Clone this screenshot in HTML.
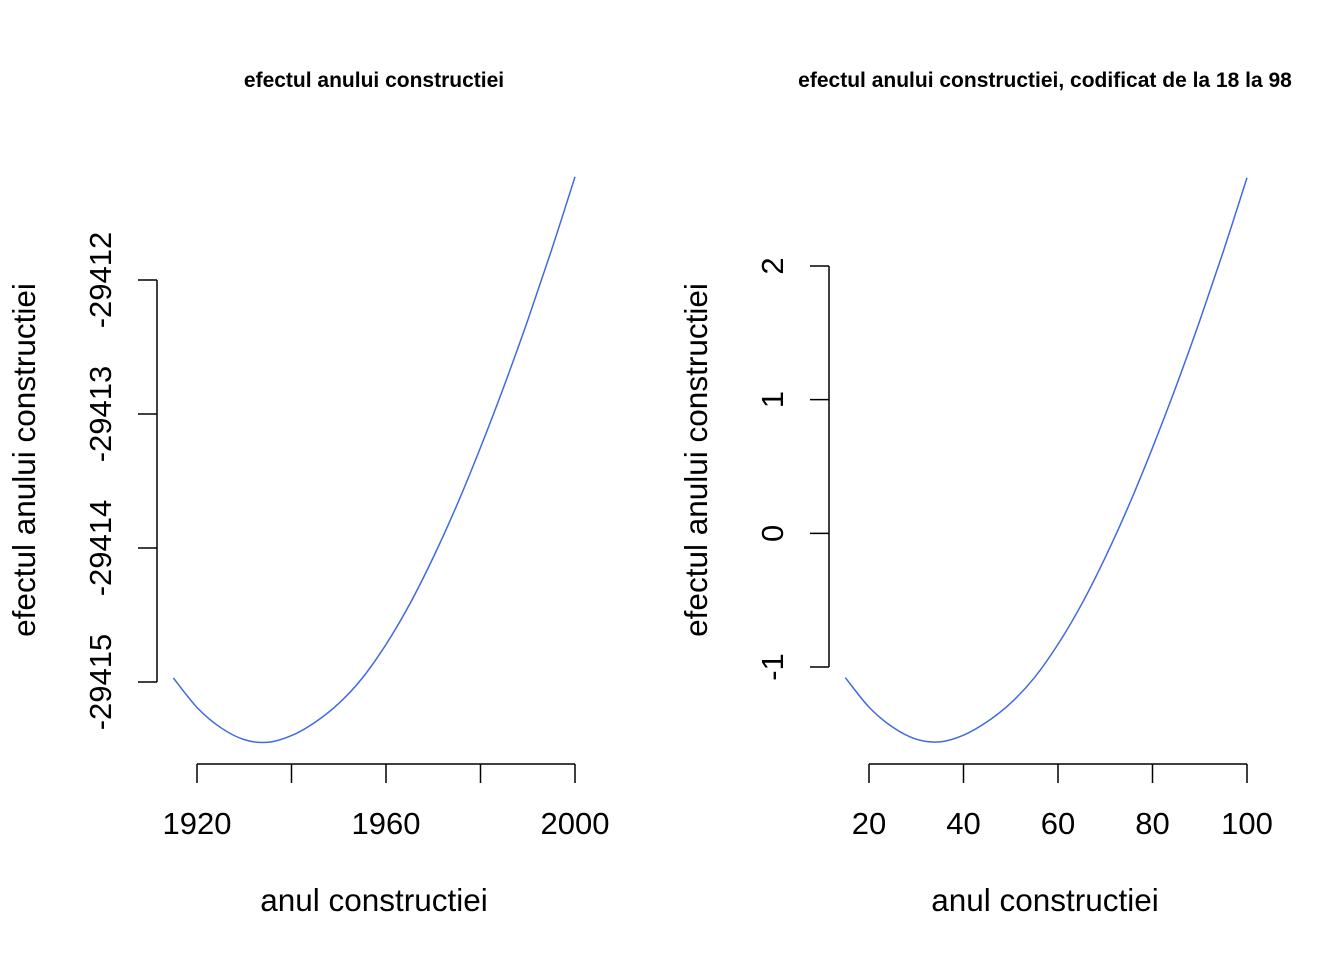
<!DOCTYPE html>
<html><head><meta charset="utf-8"><style>
html,body{margin:0;padding:0;background:#fff;}
svg{display:block;font-family:"Liberation Sans",Arial,sans-serif;}
</style></head><body>
<svg id="c" width="1344" height="960" viewBox="0 0 1344 960"></svg>
<script>
const leftYears=[1915,1920,1925,1930,1935,1940,1945,1950,1955,1960,1965,1970,1975,1980,1985,1990,1995,2000];
const leftValues=[-29414.97,-29415.19,-29415.34,-29415.43,-29415.45,-29415.40,-29415.30,-29415.16,-29414.97,-29414.72,-29414.42,-29414.07,-29413.68,-29413.25,-29412.79,-29412.30,-29411.78,-29411.23];
const leftXTicks=[1920,1940,1960,1980,2000];
const leftXTickLabels=["1920","","1960","","2000"];
const leftYTicks=[-29415,-29414,-29413,-29412];
const rightX=[15,20,25,30,35,40,45,50,55,60,65,70,75,80,85,90,95,100];
const rightValues=[-1.08,-1.30,-1.45,-1.54,-1.56,-1.51,-1.41,-1.27,-1.08,-0.83,-0.53,-0.18,0.21,0.64,1.10,1.59,2.11,2.66];
const rightXTicks=[20,40,60,80,100];
const rightYTicks=[-1,0,1,2];

const NS="http://www.w3.org/2000/svg";
const svg=document.getElementById('c');
function mk(tag,attrs,parent){const e=document.createElementNS(NS,tag);for(const k in attrs)e.setAttribute(k,attrs[k]);(parent||svg).appendChild(e);return e;}

function smoothPath(pts){
  let d='M'+pts[0][0].toFixed(2)+' '+pts[0][1].toFixed(2);
  for(let i=0;i<pts.length-1;i++){
    const p0=pts[Math.max(0,i-1)],p1=pts[i],p2=pts[i+1],p3=pts[Math.min(pts.length-1,i+2)];
    const c1=[p1[0]+(p2[0]-p0[0])/6,p1[1]+(p2[1]-p0[1])/6];
    const c2=[p2[0]-(p3[0]-p1[0])/6,p2[1]-(p3[1]-p1[1])/6];
    d+=` C${c1[0].toFixed(2)} ${c1[1].toFixed(2)} ${c2[0].toFixed(2)} ${c2[1].toFixed(2)} ${p2[0].toFixed(2)} ${p2[1].toFixed(2)}`;
  }
  return d;
}

function panel(p){
  const g=mk('g',{});
  
  
  const sx=v=>p.x0+(v-p.xa)*(p.x1-p.x0)/(p.xb-p.xa);
  const sy=v=>p.y0+(v-p.ya)*(p.y1-p.y0)/(p.yb-p.ya);
  const t=mk('text',{x:p.tx,y:87,'text-anchor':'middle','font-size':21,'font-weight':'bold'},g);
  t.textContent=p.title;
  
  
  const xa=mk('line',{x1:sx(p.xt[0]),x2:sx(p.xt[p.xt.length-1]),y1:764,y2:764,stroke:'#000','stroke-width':1.5},g);
  
  
  p.xt.forEach((v,i)=>{
    mk('line',{x1:sx(v),x2:sx(v),y1:764,y2:783,stroke:'#000','stroke-width':1.5},g);
    const lbl=p.xl?p.xl[i]:String(v);
    if(lbl){const tt=mk('text',{x:sx(v),y:834,'text-anchor':'middle','font-size':31},g);tt.textContent=lbl;
    
    }
  });
  const xt=mk('text',{x:p.tx,y:911,'text-anchor':'middle','font-size':31.5},g);
  xt.textContent='anul constructiei';
  
  
  const ya=mk('line',{x1:p.ax,x2:p.ax,y1:sy(p.yt[0]),y2:sy(p.yt[p.yt.length-1]),stroke:'#000','stroke-width':1.5},g);
  
  
  p.yt.forEach(v=>{
    mk('line',{x1:p.ax-19,x2:p.ax,y1:sy(v),y2:sy(v),stroke:'#000','stroke-width':1.5},g);
    const tt=mk('text',{x:0,y:0,'text-anchor':'middle','font-size':31,transform:`translate(${p.ax-46},${sy(v)}) rotate(-90)`},g);
    tt.textContent=String(v);
    
    
  });
  const yt=mk('text',{x:0,y:0,'text-anchor':'middle','font-size':31.5,transform:`translate(${p.ytx},460) rotate(-90)`},g);
  yt.textContent='efectul anului constructiei';
  
  
  const pts=p.xs.map((x,i)=>[sx(x),sy(p.vs[i])]);
  const path=mk('path',{d:smoothPath(pts),fill:'none',stroke:'#4169E1','stroke-width':1.5},g);
  
  
}
panel({name:'left-panel',title:'efectul anului constructiei',tx:374,xa:1920,xb:2000,x0:197,x1:575,ya:-29412,yb:-29415,y0:280,y1:682,ax:157,ytx:35,xt:leftXTicks,xl:leftXTickLabels,yt:leftYTicks,xs:leftYears,vs:leftValues});
panel({name:'right-panel',title:'efectul anului constructiei, codificat de la 18 la 98',tx:1045,xa:20,xb:100,x0:869,x1:1247,ya:2,yb:-1,y0:266,y1:667,ax:829,ytx:707,xt:rightXTicks,yt:rightYTicks,xs:rightX,vs:rightValues});
</script>
</body></html>
